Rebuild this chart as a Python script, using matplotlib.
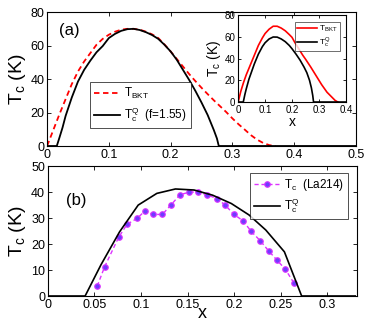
import matplotlib
matplotlib.use('Agg')
import matplotlib.pyplot as plt

plt.rcParams['font.family'] = ['Liberation Sans', 'DejaVu Sans']
plt.rcParams['mathtext.fontset'] = 'custom'
plt.rcParams['mathtext.rm'] = 'Liberation Sans'
plt.rcParams['mathtext.it'] = 'Liberation Sans'

# panel (a), main curves
x_bkt = [0, 0.01, 0.02, 0.03, 0.04, 0.05, 0.06, 0.07, 0.08, 0.09, 0.10,
         0.11, 0.12, 0.13, 0.14, 0.15, 0.16, 0.17, 0.18, 0.19, 0.20, 0.21,
         0.22, 0.23, 0.24, 0.25, 0.26, 0.27, 0.28, 0.29, 0.30, 0.31, 0.32,
         0.33, 0.34, 0.35, 0.36, 0.37]
t_bkt = [0, 9.5, 19, 28, 37, 44.5, 50.5, 55.5, 60.5, 64, 66.5,
         68.3, 69.5, 70, 70, 69.5, 68.3, 66.7, 64.5, 60.7, 56.5, 52,
         47.5, 43, 38.8, 34.8, 31, 27.3, 23.8, 20.3, 16.5, 13, 9.8,
         6.5, 3.8, 1.8, 0.5, 0]
x_q = [0, 0.0157, 0.02, 0.025, 0.03, 0.04, 0.05, 0.06, 0.07, 0.08, 0.09,
       0.10, 0.11, 0.12, 0.13, 0.14, 0.15, 0.16, 0.17, 0.18, 0.19, 0.20,
       0.21, 0.22, 0.23, 0.24, 0.25, 0.26, 0.27, 0.275, 0.278, 0.5]
t_q = [0, 0, 5, 11, 18, 29, 38.5, 45.5, 51, 56, 59.7,
       64.5, 67, 68.8, 69.8, 70, 69.3, 68, 66.3, 64, 60.5, 56.5,
       51.5, 45.5, 39.5, 33, 26, 18.5, 9.5, 4.5, 0, 0]

# inset
xi_bkt = [0, 0.01, 0.02, 0.03, 0.04, 0.05, 0.06, 0.075, 0.09, 0.1, 0.115,
          0.13, 0.145, 0.16, 0.175, 0.19, 0.2, 0.21, 0.225, 0.24, 0.25,
          0.27, 0.29, 0.31, 0.33, 0.35, 0.36, 0.37]
ti_bkt = [0, 10, 18, 25, 31, 37, 43, 52, 59, 63, 67,
          69.7, 69.7, 68, 65.5, 62, 59.5, 55, 49, 43, 39.5,
          32, 24, 16, 9, 4, 1.5, 0]
xi_q = [0, 0.019, 0.025, 0.03, 0.04, 0.05, 0.06, 0.075, 0.09, 0.1, 0.115,
        0.13, 0.145, 0.16, 0.175, 0.19, 0.2, 0.215, 0.23, 0.245, 0.255,
        0.265, 0.272, 0.277, 0.28, 0.4]
ti_q = [0, 0, 7, 12, 21, 28, 35, 44, 51, 54.5, 58,
        59.8, 59.7, 58, 55.5, 52, 49, 44, 38.5, 32, 27,
        20, 13, 6, 0, 0]

# panel (b)
x_exp = [0.053, 0.061, 0.076, 0.085, 0.096, 0.104, 0.113, 0.123, 0.132,
         0.142, 0.152, 0.161, 0.171, 0.182, 0.19, 0.2, 0.21, 0.218, 0.228,
         0.237, 0.246, 0.255, 0.264]
t_exp = [3.8, 11.3, 22.6, 27.6, 29.9, 32.7, 31.4, 31.4, 35, 39, 40, 40, 39,
         37.4, 35.1, 31.4, 28.8, 25, 21.3, 17.4, 13.8, 10.3, 5.1]
x_thq = [0, 0.04, 0.057, 0.077, 0.097, 0.117, 0.137, 0.157, 0.177, 0.197,
         0.216, 0.234, 0.254, 0.2725, 0.33]
t_thq = [0, 0, 12, 24.7, 35, 39.5, 41.2, 40.8, 38.8, 35.6, 31.2, 25.4, 17,
         0, 0]

fig = plt.figure(figsize=(3.86, 3.27), dpi=100)

def style(ax, size):
    ax.tick_params(direction='in', top=True, right=True, labelsize=size,
                   length=3, width=0.6, pad=2)
    for s in ax.spines.values():
        s.set_linewidth(0.8)

ax1 = fig.add_axes([0.122, 0.5535, 0.800, 0.4095])
ax1.plot(x_bkt, t_bkt, 'r--', lw=1.3, dashes=(3, 2), label=r'T$_{\rm BKT}$')
ax1.plot(x_q, t_q, 'k-', lw=1.3, label=r'T$_{\rm c}^{\rm Q}$  (f=1.55)')
ax1.set_xlim(0, 0.5)
ax1.set_ylim(0, 80)
ax1.set_xticks([0, 0.1, 0.2, 0.3, 0.4, 0.5])
ax1.set_xticklabels(['0', '0.1', '0.2', '0.3', '0.4', '0.5'])
ax1.set_yticks([0, 20, 40, 60, 80])
style(ax1, 9)
ax1.set_ylabel(r'T$_{\rm c}$ (K)', fontsize=14, labelpad=2)
ax1.text(0.04, 0.83, '(a)', transform=ax1.transAxes, fontsize=12)
leg1 = ax1.legend(loc='upper left', bbox_to_anchor=(0.12, 0.52), fontsize=8.5,
                  fancybox=False, edgecolor='k', handlelength=2.2,
                  borderpad=0.3, labelspacing=0.4, handletextpad=0.4)
leg1.get_frame().set_linewidth(0.6)

ax_in = fig.add_axes([0.617, 0.688, 0.279, 0.266])
ax_in.plot(xi_bkt, ti_bkt, 'r-', lw=1.2, label=r'T$_{\rm BKT}$')
ax_in.plot(xi_q, ti_q, 'k-', lw=1.2, label=r'T$_{\rm c}^{\rm Q}$')
ax_in.set_xlim(0, 0.4)
ax_in.set_ylim(0, 80)
ax_in.set_xticks([0, 0.1, 0.2, 0.3, 0.4])
ax_in.set_xticklabels(['0', '0.1', '0.2', '0.3', '0.4'])
ax_in.set_yticks([0, 20, 40, 60, 80])
style(ax_in, 7)
ax_in.tick_params(length=2)
ax_in.set_ylabel(r'T$_{\rm c}$ (K)', fontsize=10, labelpad=1)
ax_in.set_xlabel('x', fontsize=10, labelpad=0)
leg_in = ax_in.legend(loc='upper right', fontsize=6, fancybox=False,
                      edgecolor='k', handlelength=2.4, borderpad=0.2,
                      labelspacing=0.2, handletextpad=0.3,
                      bbox_to_anchor=(0.98, 0.97))
leg_in.get_frame().set_linewidth(0.5)

ax2 = fig.add_axes([0.124, 0.0948, 0.801, 0.3972])
ax2.plot(x_exp, t_exp, '--', color='#dd33ff', lw=1.0, dashes=(3, 2),
         marker='o', ms=4, mfc='#6f3cff', mec='#dd33ff', mew=0.8,
         label=r'T$_{\rm c}$  (La214)')
ax2.plot(x_thq, t_thq, 'k-', lw=1.2, label=r'T$_{\rm c}^{\rm Q}$')
ax2.set_xlim(0, 0.332)
ax2.set_ylim(0, 50)
ax2.set_xticks([0, 0.05, 0.1, 0.15, 0.2, 0.25, 0.3])
ax2.set_xticklabels(['0', '0.05', '0.1', '0.15', '0.2', '0.25', '0.3'])
ax2.set_yticks([0, 10, 20, 30, 40, 50])
style(ax2, 9)
ax2.set_ylabel(r'T$_{\rm c}$ (K)', fontsize=14, labelpad=2)
ax2.set_xlabel('x', fontsize=13, labelpad=-4)
ax2.text(0.06, 0.70, '(b)', transform=ax2.transAxes, fontsize=12)
leg2 = ax2.legend(loc='upper right', fontsize=8.5, fancybox=False,
                  edgecolor='k', handlelength=2.2, borderpad=0.3,
                  labelspacing=0.3, handletextpad=0.4,
                  bbox_to_anchor=(0.99, 0.99))
leg2.get_frame().set_linewidth(0.6)

fig.savefig('out.png', dpi=100)
